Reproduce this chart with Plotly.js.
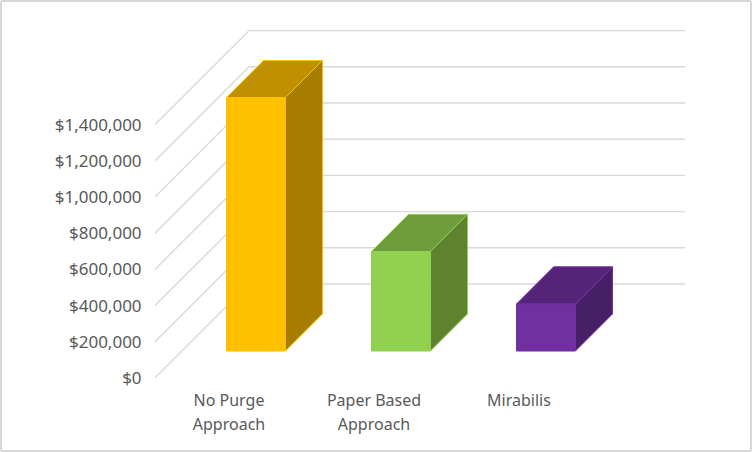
<!DOCTYPE html>
<html>
<head>
<meta charset="utf-8">
<script src="https://cdn.plot.ly/plotly-3.0.1.min.js"></script>
<style>
html,body{margin:0;padding:0;background:#fff;}
#chart{width:748px;height:448px;border:2px solid #d9d9d9;border-radius:2px;}
</style>
</head>
<body>
<div id="chart"></div>
<script>
const categories = ["No Purge<br>Approach", "Paper Based<br>Approach", "Mirabilis"];
const values = [1400000, 550000, 260000];
const axisValues = [0, 200000, 400000, 600000, 800000, 1000000, 1200000, 1400000];
const axisLabels = ["$0", "$200,000", "$400,000", "$600,000", "$800,000", "$1,000,000", "$1,200,000", "$1,400,000"];
const frontColors = ["#FFC000", "#92D050", "#7030A0"];
const topColors = ["#C09000", "#6F9C3B", "#542479"];
const sideColors = ["#A67D00", "#5F8230", "#471F66"];

// Oblique projection of the 3-D box onto the 2-D axes
const depthX = 94 / 145;              // category units for the full floor depth
const depthY = 94 / 36.2 * 200000;    // value units for the full floor depth
const barHalf = 0.203, depthFront = 0.287, depthBack = 0.682;
const xEnd = 3.145;
const project = (c, v, d) => [c + d * depthX, v + d * depthY];

function poly(points, fill, line) {
  const p = points.map(q => project(q[0], q[1], q[2]));
  p.push(p[0]);
  return {
    type: "scatter", mode: "lines", x: p.map(q => q[0]), y: p.map(q => q[1]),
    fill: "toself", fillcolor: fill, line: {color: line, width: 1},
    hoverinfo: "skip", showlegend: false, cliponaxis: false
  };
}

const traces = [];
axisValues.forEach(v => {
  const a = project(-0.5103, v, 0), b = project(-0.5103, v, 1);
  traces.push({
    type: "scatter", mode: "lines", x: [a[0], b[0], xEnd], y: [a[1], b[1], b[1]],
    line: {color: "#d9d9d9", width: 1.4}, hoverinfo: "skip", showlegend: false, cliponaxis: false
  });
});
values.forEach((v, i) => {
  const l = i - barHalf, r = i + barHalf, f = depthFront, k = depthBack, col = frontColors[i];
  traces.push(poly([[r,0,f],[r,0,k],[r,v,k],[r,v,f]], sideColors[i], col));
  traces.push(poly([[l,v,f],[r,v,f],[r,v,k],[l,v,k]], topColors[i], col));
  traces.push(poly([[l,0,f],[r,0,f],[r,v,f],[l,v,f]], col, col));
});

const font = {family: '"Noto Sans", sans-serif', color: "#595959"};
const layout = {
  width: 748, height: 448, autosize: false,
  margin: {l: 153, r: 65, t: 24, b: 72},
  paper_bgcolor: "#fff", plot_bgcolor: "#fff",
  showlegend: false, hovermode: false,
  xaxis: {
    range: [-0.5103, xEnd], showgrid: false, zeroline: false, showline: false,
    tickmode: "array", tickvals: categories.map((c, i) => i),
    ticktext: categories.map(c => c.split("<br>").map(s => '<span style="font-size:16px">' + s + '</span>').join("<br>")),
    ticks: "outside", ticklen: 5, tickcolor: "rgba(0,0,0,0)",
    tickfont: Object.assign({size: 18.5}, font), tickangle: 0
  },
  yaxis: {
    range: [0, 352 / 36.2 * 200000], showgrid: false, zeroline: false, showline: false,
    tickmode: "array", tickvals: axisValues, ticktext: axisLabels,
    ticks: "outside", ticklen: 9, tickcolor: "rgba(0,0,0,0)",
    tickfont: Object.assign({size: 17}, font)
  }
};
Plotly.newPlot("chart", traces, layout, {displayModeBar: false, staticPlot: true});
</script>
</body>
</html>
